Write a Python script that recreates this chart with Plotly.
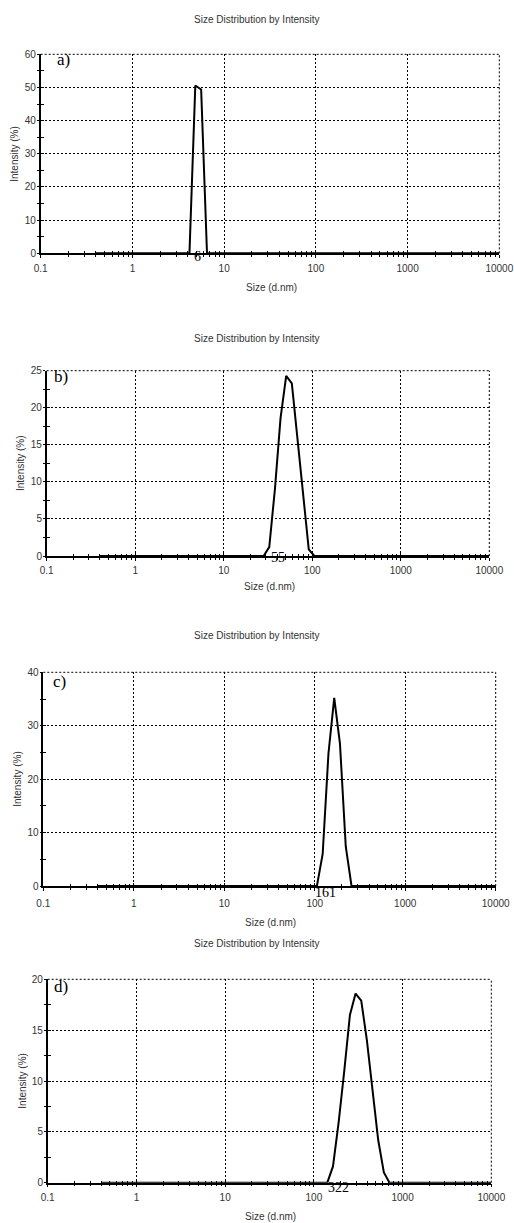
import plotly.graph_objects as go

W, H = 514, 1223

# ---------------- data ----------------
x_tick_vals = [0.1, 1, 10, 100, 1000, 10000]
x_tick_labels = ["0.1", "1", "10", "100", "1000", "10000"]

a_size = [0.4, 4.187, 4.849, 5.615, 6.503, 10000]
a_int = [0, 0, 50.6, 49.4, 0, 0]

b_size = [0.4, 28.21, 32.67, 37.84, 43.82, 50.75, 58.77, 68.06, 78.82, 91.28, 105.7, 10000]
b_int = [0, 0, 1.2, 9.0, 18.6, 24.3, 23.3, 16.0, 7.8, 0.9, 0, 0]

c_size = [0.4, 105.7, 122.4, 141.8, 164.2, 190.1, 220.2, 255.0, 10000]
c_int = [0, 0, 6.0, 24.8, 35.2, 26.6, 7.4, 0, 0]

d_size = [0.4, 141.8, 164.2, 190.1, 220.2, 255.0, 295.3, 342.0, 396.1, 458.7, 531.2, 615.1, 712.4, 10000]
d_int = [0, 0, 1.6, 5.9, 11.0, 16.5, 18.6, 17.9, 14.0, 9.2, 4.2, 1.0, 0, 0]

panel_letters = ["a)", "b)", "c)", "d)"]
peak_labels = ["6", "55", "161", "322"]
y_max = [60, 25, 40, 20]
y_step = [10, 5, 10, 5]
title_text = "Size Distribution by Intensity"
x_title = "Size (d.nm)"
y_title = "Intensity (%)"

# ---------------- layout geometry (pixels) ----------------
# plot area: left, right, top, bottom
boxes = [
    (40.7, 499.3, 54.3, 253.3),
    (46.7, 489.3, 370.7, 556.0),
    (43.3, 495.7, 672.3, 886.0),
    (47.7, 491.3, 979.3, 1182.7),
]
title_y = [20, 338, 636, 943]
xtitle_y = [287, 587, 922.7, 1216.7]
ytitle_x = [15, 20.7, 16.7, 21.7]
xlab_standoff = [2, 1, 4, 2]
letter_pos = [(55, 60), (51.7, 376), (50.7, 681.7), (52.3, 986.7)]
peak_pos = [(197.7, 256.7), (278.3, 557.3), (325, 892.7), (338.3, 1187.3)]

sizes = [a_size, b_size, c_size, d_size]
ints = [a_int, b_int, c_int, d_int]

SANS = "Liberation Sans, Arial, sans-serif"
SERIF = "Liberation Serif, Times New Roman, serif"
TXT = "#333333"
GRID_DASH = "2px,2px"

fig = go.Figure()
layout = {}
annotations = []
shapes = []


def px(x):
    return x / W


def py(y):
    return 1 - y / H


for i in range(4):
    n = i + 1
    on = i + 5
    xs = "" if n == 1 else str(n)
    ys = "" if n == 1 else str(n)
    L, R, T, B = boxes[i]

    fig.add_trace(go.Scatter(
        x=sizes[i], y=ints[i], mode="lines",
        line=dict(color="black", width=2),
        xaxis="x" + xs, yaxis="y" + ys, showlegend=False, hoverinfo="skip",
    ))
    # empty trace to register overlay axes (inner half of crossing ticks)
    fig.add_trace(go.Scatter(
        x=[], y=[], xaxis="x" + str(on), yaxis="y" + str(on), showlegend=False,
    ))

    layout["xaxis" + xs] = dict(
        type="log", range=[-1, 4], domain=[px(L), px(R)], anchor="y" + ys,
        automargin=False,
        tickmode="array", tickvals=x_tick_vals, ticktext=x_tick_labels,
        ticks="outside", ticklen=3, tickcolor="black", tickwidth=1,
        ticklabelstandoff=xlab_standoff[i],
        minor=dict(ticks="outside", ticklen=2, tickcolor="black", dtick="D1", showgrid=False),
        showline=True, linecolor="black", linewidth=1.5,
        showgrid=True, gridcolor="black", griddash=GRID_DASH, gridwidth=1,
        zeroline=False,
        tickfont=dict(family=SANS, size=10, color=TXT),
    )
    layout["yaxis" + ys] = dict(
        range=[0, y_max[i]], domain=[py(B), py(T)], anchor="x" + xs,
        automargin=False,
        tickmode="linear", tick0=0, dtick=y_step[i],
        ticks="outside", ticklen=2, tickcolor="black", tickwidth=1,
        minor=dict(ticks="outside", ticklen=2, tickcolor="black", dtick=y_step[i] / 2, showgrid=False),
        showline=True, linecolor="black", linewidth=1.5,
        showgrid=True, gridcolor="black", griddash=GRID_DASH, gridwidth=1,
        zeroline=False,
        ticklabelstandoff=-1,
        tickfont=dict(family=SANS, size=10, color=TXT),
    )
    layout["xaxis" + str(on)] = dict(
        type="log", range=[-1, 4], overlaying="x" + xs, anchor="y" + ys,
        automargin=False,
        tickmode="array", tickvals=x_tick_vals, ticks="inside", ticklen=3,
        tickcolor="black", showticklabels=False,
        minor=dict(ticks="inside", ticklen=2, tickcolor="black", dtick="D1", showgrid=False),
        showline=False, showgrid=False, zeroline=False,
    )
    layout["yaxis" + str(on)] = dict(
        range=[0, y_max[i]], overlaying="y" + ys, anchor="x" + xs,
        automargin=False,
        tickmode="linear", tick0=0, dtick=y_step[i], ticks="inside", ticklen=3,
        tickcolor="black", showticklabels=False,
        minor=dict(ticks="inside", ticklen=3, tickcolor="black", dtick=y_step[i] / 2, showgrid=False),
        showline=False, showgrid=False, zeroline=False,
    )

    # dotted frame on top and right edges (like the gridlines)
    shapes.append(dict(type="line", xref="x" + xs + " domain", yref="y" + ys + " domain",
                       x0=0, x1=1, y0=1, y1=1, layer="below",
                       line=dict(color="black", width=1, dash=GRID_DASH)))
    shapes.append(dict(type="line", xref="x" + xs + " domain", yref="y" + ys + " domain",
                       x0=1, x1=1, y0=0, y1=1, layer="below",
                       line=dict(color="black", width=1, dash=GRID_DASH)))

    annotations.append(dict(
        text=title_text, x=px(257), y=py(title_y[i]), xref="paper", yref="paper",
        showarrow=False, xanchor="center", yanchor="middle",
        font=dict(family=SANS, size=10, color=TXT),
    ))
    annotations.append(dict(
        text=x_title, x=px((L + R) / 2 + 1), y=py(xtitle_y[i]), xref="paper", yref="paper",
        showarrow=False, xanchor="center", yanchor="middle",
        font=dict(family=SANS, size=10, color=TXT),
    ))
    annotations.append(dict(
        text=y_title, x=px(ytitle_x[i]), y=py((T + B) / 2), xref="paper", yref="paper",
        showarrow=False, xanchor="center", yanchor="middle", textangle=-90,
        font=dict(family=SANS, size=10, color=TXT),
    ))
    lx, ly = letter_pos[i]
    annotations.append(dict(
        text=panel_letters[i], x=px(lx), y=py(ly), xref="paper", yref="paper",
        showarrow=False, xanchor="left", yanchor="middle",
        font=dict(family=SERIF, size=17, color="black"),
    ))
    kx, ky = peak_pos[i]
    annotations.append(dict(
        text=peak_labels[i], x=px(kx), y=py(ky), xref="paper", yref="paper",
        showarrow=False, xanchor="center", yanchor="middle",
        font=dict(family=SERIF, size=14, color="black"),
    ))

fig.update_layout(
    width=W, height=H,
    margin=dict(l=0, r=0, t=0, b=0, autoexpand=False),
    paper_bgcolor="white", plot_bgcolor="white",
    showlegend=False,
    annotations=annotations,
    shapes=shapes,
    **layout,
)

fig.write_html(
    "out.html",
    config={"displayModeBar": False},
    post_script="document.body.style.margin='0';document.body.style.overflow='hidden';",
)
